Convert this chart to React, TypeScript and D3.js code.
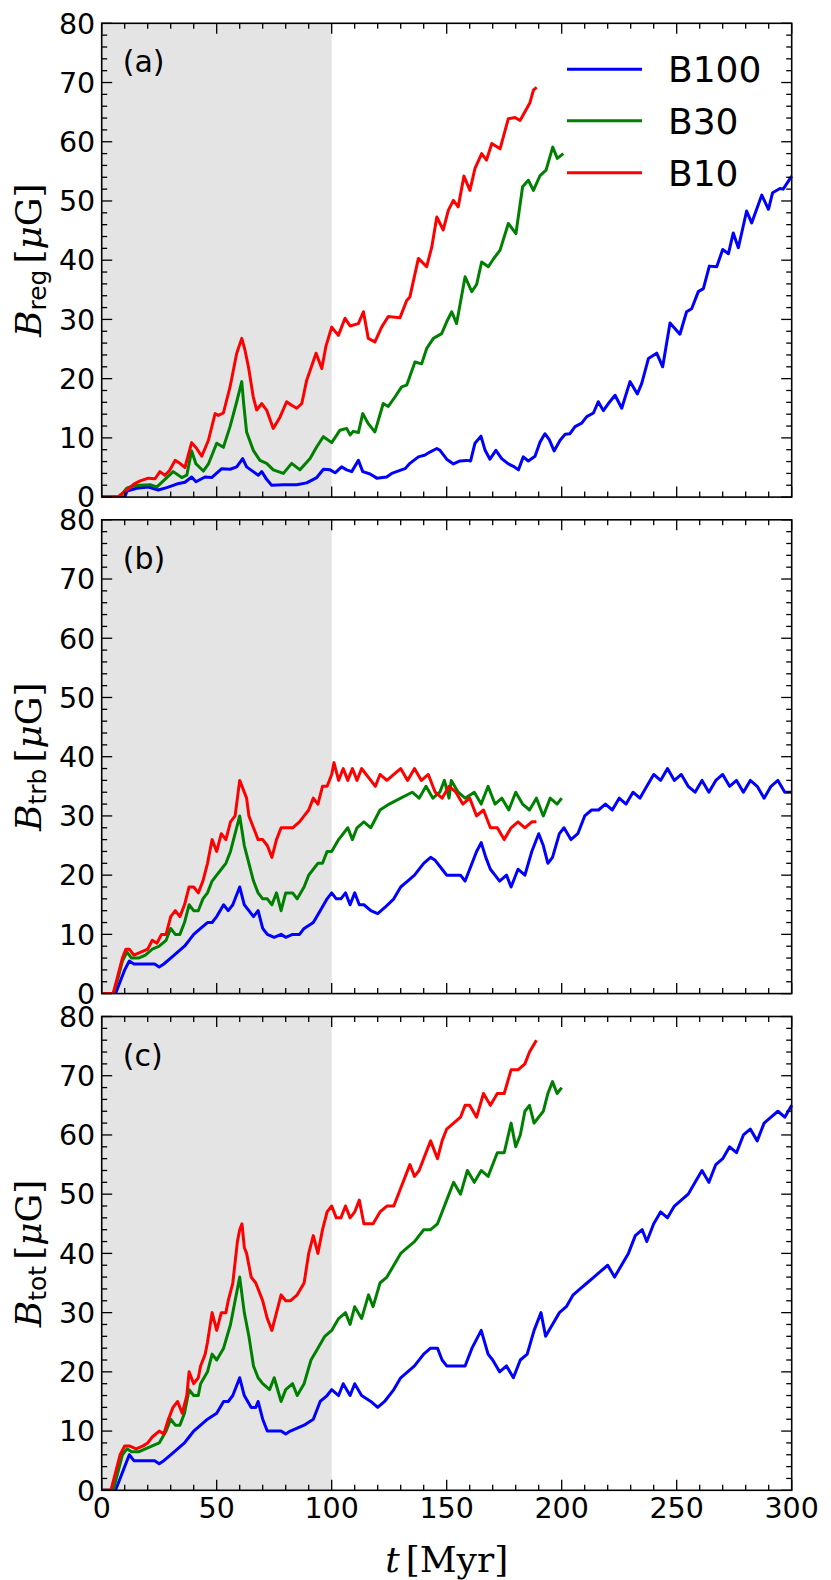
import React from "react";
import * as d3 from "d3";

type Pt = [number, number];

// ---------- data (t [Myr], B [muG]) ----------
const regB100: Pt[] = [[0,0],[10,0],[11,1.0],[15.2,1.5],[20.3,1.7],[24.6,1.2],[28.3,1.6],[32.6,2.2],[36.2,2.5],[39.1,3.4],[41,2.6],[44.9,3.4],[47.8,3.3],[52.2,4.8],[55.8,4.7],[58.7,5.1],[61.3,6.5],[63,5.1],[65.9,4.3],[68.1,3.7],[69.6,4.3],[71.7,3.0],[73.9,2.0],[79,2.1],[84.8,2.1],[89.1,2.4],[93.5,3.3],[96.4,4.7],[99.3,4.6],[101.5,4.1],[104.3,5.1],[106.5,4.6],[108.7,4.3],[111.6,6.2],[113.5,4.3],[116.7,3.9],[119.6,3.2],[123.9,3.4],[126.1,4.0],[129.7,4.5],[131.9,4.8],[134,5.7],[137.7,6.8],[140.6,7.1],[142.7,7.6],[145.7,8.2],[147.1,7.9],[150,6.4],[152.9,5.6],[155.8,6.1],[158.7,6.2],[160.4,6.1],[162.3,9.1],[164.9,10.3],[166.7,7.9],[168.8,6.4],[171.4,7.9],[173.9,6.5],[176.8,5.6],[179,5.2],[181.2,4.6],[183.3,6.8],[185.5,6.1],[188.4,6.9],[190.6,9.3],[192.7,10.7],[194.6,9.7],[196.7,7.8],[199.3,9.6],[201.5,10.6],[203.6,10.7],[205.8,11.9],[208.7,12.5],[210.9,13.6],[213.8,14.2],[215.9,16.1],[218.1,14.6],[220.3,15.8],[223.2,17.2],[226.1,15.0],[229.7,19.5],[232.9,17.4],[234.8,19.2],[237.7,23.4],[241.3,24.3],[243.9,22.0],[247.1,29.4],[251.4,27.5],[254.3,31.3],[256.5,31.8],[259.4,34.7],[261.6,35.2],[264.2,39.0],[267.4,38.9],[270,41.8],[272.5,41.1],[274.6,44.6],[276.8,42.1],[280.4,48.3],[282.6,46.3],[287,51.0],[289.9,48.6],[291.7,51.4],[294.9,52.1],[296.3,52.0],[300,54.2]];
const regB30: Pt[] = [[0,0],[7,0],[9,0.6],[10.9,1.5],[13,1.8],[16.7,2.0],[21,2.1],[23.9,1.7],[27.5,3.0],[31.1,4.3],[34.8,3.3],[37,3.7],[39.1,7.8],[41,5.6],[44.2,4.4],[46.4,5.6],[50,9.1],[52.9,8.4],[55.8,11.9],[58.7,16.1],[60.9,19.5],[61.8,15.5],[63,11.0],[65.9,7.9],[68.8,6.2],[71.7,5.7],[74.6,4.6],[79,4.0],[82.6,5.7],[86.2,4.6],[90.6,6.5],[93.5,8.5],[96.4,10.2],[100,9.2],[103.6,11.3],[106.5,11.6],[108,10.5],[109.4,11.1],[111.6,10.9],[113.5,14.1],[115.9,12.4],[118.8,11.0],[122.4,15.8],[124.6,15.3],[127.5,16.9],[130.4,18.6],[132.6,18.9],[136.2,22.8],[139.1,22.5],[141.3,25.1],[144.2,26.8],[147.8,27.6],[150,29.6],[152.2,31.3],[154.3,29.3],[158,37.2],[160.9,34.7],[163,35.9],[165.2,39.7],[168.1,38.9],[170.3,40.2],[173.2,41.7],[176.8,46.2],[180.1,44.5],[183,52.4],[185.5,53.5],[187.7,51.8],[190.6,54.3],[193.2,55.2],[196.1,59.1],[198.1,57.2],[200.7,58.0]];
const regB10: Pt[] = [[0,0],[7,0],[9,0.6],[12.3,1.6],[14,2.2],[16.7,2.75],[20.3,3.2],[23.2,3.1],[25.3,4.3],[27.5,3.7],[29.5,4.5],[31.9,6.2],[34,5.7],[36.2,5.0],[39.1,9.2],[41.3,8.2],[43.5,6.9],[46.4,9.6],[49.3,14.1],[50.7,13.8],[52.9,14.2],[55.8,18.6],[58.7,24.3],[60.9,26.8],[62.3,24.8],[63.8,22],[65.9,16.9],[67.4,14.7],[69.6,15.8],[71.7,14.7],[74.6,11.6],[77.5,13.5],[80.4,16.1],[82.6,15.5],[84.8,15.0],[87,15.8],[89.1,19.7],[93.2,24.3],[95.7,21.7],[97.5,25.5],[100,28.7],[102.9,27.3],[105.8,30.2],[108,28.9],[111.6,29.3],[113.8,31.3],[115.9,26.8],[118.8,26.2],[121.7,28.7],[124.6,30.5],[129.7,30.3],[132.6,33.2],[134,33.8],[137.7,40.3],[141.3,38.9],[143.5,42.2],[145.7,47.3],[148.5,45.1],[150.7,48.4],[152.9,50.1],[155,49.0],[157.5,54.2],[160.1,51.8],[162.3,55.5],[165.2,58.0],[167.3,56.9],[169.6,59.7],[173.2,58.8],[176.8,63.9],[179.7,64.1],[181.9,63.6],[184.8,65.6],[186.2,66.6],[187.7,68.7],[189.1,69.2]];

const trbB100: Pt[] = [[0,0],[6,0],[8,2],[10,4],[12,5.5],[14,5],[17,5],[20,5],[23,5],[25,4.5],[27,5],[30,6],[33,7],[36,8],[38,9],[40,10],[43,11],[46,12],[48,12],[50,13],[53,15],[55,14],[57,15],[60,18],[62,15],[64,14],[66,13],[68,14],[70,11],[72,10],[75,9.5],[78,10],[80,9.5],[83,10],[86,10],[88,11],[90,11.5],[92,12],[95,14],[98,16],[100,17],[102,16],[104,16],[106,17],[108,15],[110,17],[112,15],[114,15],[117,14],[120,13.5],[123,14.5],[127,16],[130,18],[133,19],[136,20],[140,22],[143,23],[145,22.5],[148,21],[150,20],[153,20],[156,20],[158,19],[160,21],[163,24],[165,25.5],[167,23],[169,21],[171,20],[173,19],[176,20],[178,18],[181,21],[184,20],[187,24],[190,27],[192,25],[194,22],[196,23],[199,27],[201,28],[204,26],[207,27],[210,30],[213,31],[216,31],[219,32],[222,31],[225,33],[228,32],[231,34],[234,33],[237,35],[240,37],[243,36],[246,38],[249,36],[252,37],[255,35],[258,34],[261,36],[264,34],[267,36],[270,37],[273,35],[276,36],[279,34],[282,36],[285,35],[288,33],[291,35],[294,36],[297,34],[300,34]];
const trbB30: Pt[] = [[0,0],[5,0],[7,2.5],[9,5.5],[11,7],[13,6],[16,6],[19,6.5],[22,7.5],[25,8],[28,9],[30,11],[32,10],[34,10],[36,12],[38,15],[40,14],[42,14],[44,16],[46,17],[48,19],[50,20],[52,21],[54,22],[56,24],[58,27],[60,30],[62,25],[64,22],[66,19],[68,17],[70,16],[72,16],[74,15],[76,17],[78,14],[80,17],[83,17],[85,16],[88,18],[90,20],[92,21],[94,22],[96,22],[98,24],[100,24],[103,26],[107,28],[109,26],[111,28],[114,29],[117,28],[121,31],[125,32],[130,33],[135,34],[138,33],[141,35],[144,33],[147,34],[149,36],[151,33],[152,36],[155,34],[158,33],[162,34],[165,32],[168,35],[171,32],[174,33],[177,31],[180,34],[183,32],[186,31],[189,33],[192,30],[195,33],[198,32],[200,33]];
const trbB10: Pt[] = [[0,0],[5,0],[7,3],[9,6],[10.5,7.5],[12,7.5],[14,6.5],[17,7],[20,7.5],[22,9],[24,8.5],[26,10],[28,10],[30,13],[32,14],[34,13],[36,15],[38,18],[40,18],[42,17],[44,19],[46,22],[48,26],[50,24],[52,27],[54,26],[56,29],[58,30],[60,36],[61,35],[63,33],[64,30],[66,28],[68,26],[70,26],[72,25],[74,23],[76,26],[78,28],[80,28],[83,28],[86,29],[88,30],[90,31],[92,33],[94,32],[96,35],[98,35],[100,37],[101,39],[103,36],[105,38],[107,36],[109,38],[111,36],[113,38],[115,37],[117,36],[119,35],[121,37],[124,36],[127,37],[130,38],[133,36],[136,38],[139,36],[142,37],[145,34],[148,33],[151,35],[154,34],[157,32],[160,33],[163,30],[166,31],[169,28],[172,28],[175,26],[178,28],[181,29],[184,28],[187,29],[189,29]];

const totB100: Pt[] = [[0,0],[6,0],[8,2],[10,4],[12,6],[14,5],[17,5],[20,5],[23,5],[25,4.5],[27,5],[30,6],[33,7],[36,8],[38,9],[40,10],[43,11],[46,12],[48,12.5],[50,13],[53,15],[55,15],[57,16],[60,19],[62,16],[65,14],[67,14],[68,15],[70,12],[72,10],[75,10],[78,10],[80,9.5],[82,10],[85,10.5],[88,11],[92,12],[95,15],[98,16],[100,17],[103,16],[105,18],[108,16],[110,18],[113,16],[117,15],[120,14],[123,15],[127,17],[130,19],[133,20],[136,21],[140,23],[143,24],[146,24],[148,22],[150,21],[155,21],[158,21],[161,24],[165,27],[168,23],[170,22],[173,20],[176,21],[179,19],[182,22],[185,23],[188,27],[191,30],[193,26],[196,28],[199,30],[202,31],[205,33],[208,34],[211,35],[214,36],[217,37],[220,38],[223,36],[226,38],[229,40],[232,43],[235,44],[237,42],[240,45],[243,47],[246,46],[249,48],[252,49],[255,50],[258,52],[261,54],[264,52],[267,55],[270,56],[273,58],[276,57],[279,60],[282,61],[285,59],[288,62],[291,63],[294,64],[297,63],[300,65]];
const totB30: Pt[] = [[0,0],[5,0],[7,3],[9,6],[11,7],[13,6.5],[16,6.5],[19,7],[22,7.5],[25,8],[28,10],[30,12],[32,11],[34,11],[36,13],[38,17],[40,16],[42,16],[43,18],[46,20],[48,23],[50,22],[53,24],[56,28],[58,32],[60,36],[62,30],[64,26],[66,21],[68,19],[70,18],[73,17],[75,19],[78,15],[80,17],[83,18],[85,16],[88,18],[91,22],[94,24],[97,26],[100,27],[103,29],[106,30],[108,28],[110,31],[113,29],[116,33],[118,31],[121,35],[124,36],[127,38],[130,40],[133,41],[136,42],[140,44],[143,44],[146,45],[148,47],[150,49],[153,52],[156,50],[159,54],[162,52],[165,54],[168,53],[172,57],[175,57],[178,62],[180,58],[182,60],[184,64],[186,65],[188,62],[190,63],[192,64],[194,67],[196,69],[198,67],[200,68]];
const totB10: Pt[] = [[0,0],[4,0],[6,3],[8,6],[10,7.5],[12,7.5],[15,7],[18,7.5],[20,8],[22,9],[25,10],[27,9.5],[29,12],[31,14],[33,15],[35,13],[37,16],[38,20],[40,18],[42,19],[43,21],[45,23],[46,25],[48,30],[50,27],[52,30],[54,30],[55,32],[57,35],[59,42],[60,44],[61,45],[62,41],[63,40],[65,36],[67,35],[69,33],[70,32],[72,29],[74,27],[76,30],[78,33],[80,32],[82,32],[85,33],[88,35],[90,40],[92,43],[94,40],[96,44],[98,47],[100,48],[102,46],[104,46],[106,48],[108,46],[110,47],[112,49],[114,45],[116,45],[118,45],[121,47],[124,48],[127,48],[130,51],[132,53],[134,55],[136,53],[138,54],[140,56],[143,59],[146,56],[148,59],[150,61],[153,62],[156,63],[158,65],[160,65],[163,63],[166,67],[169,65],[172,67],[175,67],[178,71],[181,71],[184,72],[186,74],[189,76]];

const seriesNames = ["B100", "B30", "B10"];
const seriesColors = ["#0000ff", "#008000", "#ff0000"];
const panelLetters = ["(a)", "(b)", "(c)"];
const panelSubs = ["reg", "trb", "tot"];
const xTicks = [0, 50, 100, 150, 200, 250, 300];
const yTicks = [0, 10, 20, 30, 40, 50, 60, 70, 80];
const shadeRange = [0, 100];

const panelData: Pt[][][] = [
  [regB100, regB30, regB10],
  [trbB100, trbB30, trbB10],
  [totB100, totB30, totB10],
];

// ---------- layout ----------
const W = 831, H = 1580;
const L = 101.7, R = 791.7;
const panelTops = [23.3, 519.8, 1016.5];
const PH = 473.8;

const x = d3.scaleLinear().domain([0, 300]).range([L, R]);

function Panel({ idx }: { idx: number }) {
  const top = panelTops[idx];
  const y = d3.scaleLinear().domain([0, 80]).range([top + PH, top]);
  const line = d3.line<Pt>().x(d => x(d[0])).y(d => y(d[1]));
  const minorX = d3.range(0, 301, 10).filter(v => v % 50 !== 0);
  const minorY = d3.range(0, 81, 2).filter(v => v % 10 !== 0);
  const bottom = top + PH;
  const MAJ = 10.5, MIN = 5.5, TW = 1.3;
  return (
    <g>
      <rect x={x(shadeRange[0])} y={top} width={x(shadeRange[1]) - x(shadeRange[0])} height={PH} fill="#e4e4e4" />
      <clipPath id={`clip${idx}`}>
        <rect x={L} y={top - 2} width={R - L + 2} height={PH + 2} />
      </clipPath>
      <g clipPath={`url(#clip${idx})`}>
        {panelData[idx].map((s, i) => (
          <path key={i} d={line(s) || ""} fill="none" stroke={seriesColors[i]} strokeWidth={3} strokeLinejoin="round" strokeLinecap="butt" />
        ))}
      </g>
      <g stroke="#000" strokeWidth={TW}>
        {xTicks.map(v => (
          <g key={`xt${v}`}>
            <line x1={x(v)} x2={x(v)} y1={bottom} y2={bottom - MAJ} />
            <line x1={x(v)} x2={x(v)} y1={top} y2={top + MAJ} />
          </g>
        ))}
        {minorX.map(v => (
          <g key={`xm${v}`}>
            <line x1={x(v)} x2={x(v)} y1={bottom} y2={bottom - MIN} />
            <line x1={x(v)} x2={x(v)} y1={top} y2={top + MIN} />
          </g>
        ))}
        {yTicks.map(v => (
          <g key={`yt${v}`}>
            <line x1={L} x2={L + MAJ} y1={y(v)} y2={y(v)} />
            <line x1={R} x2={R - MAJ} y1={y(v)} y2={y(v)} />
          </g>
        ))}
        {minorY.map(v => (
          <g key={`ym${v}`}>
            <line x1={L} x2={L + MIN} y1={y(v)} y2={y(v)} />
            <line x1={R} x2={R - MIN} y1={y(v)} y2={y(v)} />
          </g>
        ))}
      </g>
      <rect x={L} y={top} width={R - L} height={PH} fill="none" stroke="#000" strokeWidth={1.6} />
      <g fontFamily="DejaVu Sans" fontSize={28.5} textAnchor="end" fill="#000">
        {yTicks.map(v => (
          <text key={`yl${v}`} x={L - 6.5} y={y(v)} dy="0.36em">{v}</text>
        ))}
      </g>
      {idx === 2 && (
        <g fontFamily="DejaVu Sans" fontSize={28.5} textAnchor="middle" fill="#000">
          {xTicks.map(v => (
            <text key={`xl${v}`} x={x(v)} y={bottom + 28}>{v}</text>
          ))}
        </g>
      )}
      <text x={L + 21} y={top + 49} fontFamily="DejaVu Sans" fontSize={30} fill="#000">{panelLetters[idx]}</text>
      <text transform={`translate(41,${top + PH / 2}) rotate(-90)`} textAnchor="middle" fontSize={36} fill="#000">
        <tspan fontFamily="DejaVu Serif" fontStyle="italic">B</tspan>
        <tspan fontFamily="DejaVu Sans" fontSize={25} dy="5">{panelSubs[idx]}</tspan>
        <tspan fontFamily="DejaVu Serif" dy="-5" dx="6">[</tspan>
        <tspan fontFamily="DejaVu Serif" fontStyle="italic">μ</tspan>
        <tspan fontFamily="DejaVu Serif">G]</tspan>
      </text>
    </g>
  );
}

export default function App() {
  const legendY = [69.3, 120.7, 172.7];
  return (
    <svg width={W} height={H} viewBox={`0 0 ${W} ${H}`} style={{ position: "absolute", left: 0, top: 0, background: "#fff" }}>
      <rect x={0} y={0} width={W} height={H} fill="#fff" />
      {[0, 1, 2].map(i => <Panel key={i} idx={i} />)}
      {seriesNames.map((n, i) => (
        <g key={n}>
          <line x1={567} x2={642} y1={legendY[i]} y2={legendY[i]} stroke={seriesColors[i]} strokeWidth={3} />
          <text x={668} y={legendY[i]} dy="0.36em" fontFamily="DejaVu Sans" fontSize={36} fill="#000">{n}</text>
        </g>
      ))}
      <text x={(L + R) / 2} y={1572} textAnchor="middle" fontSize={36} fill="#000">
        <tspan fontFamily="DejaVu Serif" fontStyle="italic">t</tspan>
        <tspan fontFamily="DejaVu Serif" dx="6">[Myr]</tspan>
      </text>
    </svg>
  );
}
